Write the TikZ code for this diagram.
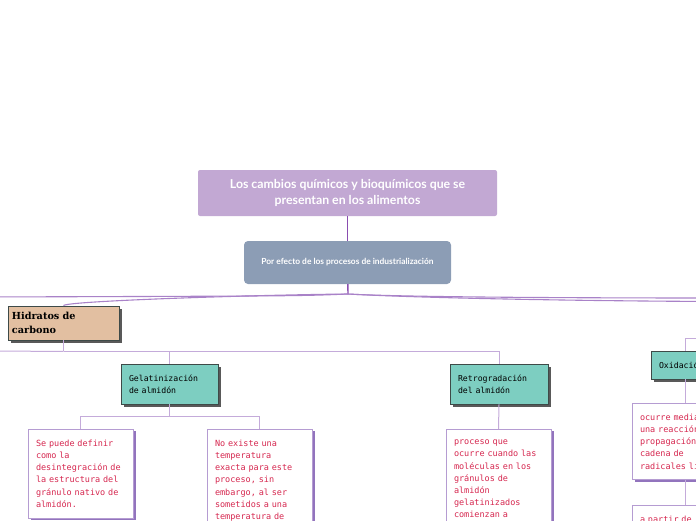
\documentclass[tikz,border=0pt]{standalone}
\usepackage{fontspec}
\setmainfont{Lato}
\newfontfamily\monofont{DejaVu Sans Mono}
\newfontfamily\slabfont{DejaVu Serif}
\usetikzlibrary{shadows}

\definecolor{titlefill}{HTML}{C2A8D3}
\definecolor{subfill}{HTML}{8C9DB5}
\definecolor{tanfill}{HTML}{E2BFA1}
\definecolor{tealfill}{HTML}{7DCEC1}
\definecolor{topicline}{HTML}{3E4A48}
\definecolor{noteline}{HTML}{B59CD2}
\definecolor{noteshadow}{HTML}{9274BD}
\definecolor{notetext}{HTML}{D6274F}
\definecolor{hubline}{HTML}{A982C8}
\definecolor{branchline}{HTML}{C4ABDA}
\definecolor{rootline}{HTML}{8A4DB0}

\tikzset{
  rootbox/.style={fill=titlefill, rounded corners=2pt, text=white, align=center,
    font=\fontsize{12.3}{16}\selectfont\bfseries, minimum width=299pt, minimum height=46pt},
  subbox/.style={fill=subfill, rounded corners=4pt, text=white,
    font=\fontsize{8.4}{10}\selectfont\bfseries, minimum width=207pt, minimum height=43pt},
  topicbox/.style={draw=topicline, line width=0.8pt, inner xsep=8pt, align=left,
    font=\monofont\fontsize{8.2}{12}\selectfont,
    drop shadow={shadow xshift=2.5pt, shadow yshift=-2.5pt, fill=black!65, opacity=1}},
  notebox/.style={draw=noteline, fill=white, line width=0.8pt, anchor=north, inner xsep=8pt,
    inner ysep=10.5pt, align=left, text=notetext, font=\monofont\fontsize{8.5}{12.2}\selectfont,
    drop shadow={shadow xshift=2.5pt, shadow yshift=-2pt, fill=noteshadow, opacity=1}},
  rootlink/.style={draw=rootline, line width=1.4pt},
  hublink/.style={draw=hubline, line width=1.1pt},
  branch/.style={draw=branchline, line width=1pt}
}

\begin{document}
\begin{tikzpicture}[x=1pt, y=-1pt]
  \useasboundingbox (0,0) rectangle (696,520);
  \clip (0,0) rectangle (696,520);

  % central topic and subtopic
  \node[rootbox] (root) at (347.5,193) {Los cambios químicos y bioquímicos que se\\presentan en los alimentos};
  \node[subbox] (sub) at (347.5,262.5) {Por efecto de los procesos de industrialización};
  \coordinate (hub) at (348,294);

  % main topics
  \node[topicbox, fill=tanfill, inner xsep=4pt, minimum width=111pt, minimum height=34pt,
    text width=103pt, font=\slabfont\bfseries\fontsize{9.7}{14}\selectfont] (hid) at (63.5,323) {Hidratos de\\carbono};
  \node[topicbox, fill=tealfill, minimum width=97pt, minimum height=40pt, text width=81pt] (gel) at (169.5,384) {Gelatinización\\de almidón};
  \node[topicbox, fill=tealfill, minimum width=98pt, minimum height=40pt, text width=82pt] (retro) at (499,384) {Retrogradación\\del almidón};
  \node[topicbox, fill=tealfill, minimum width=68pt, minimum height=28pt, text width=52pt] (oxid) at (685,365) {Oxidación};

  % notes
  \node[notebox, minimum width=105pt, text width=89pt] (def) at (80.5,429) {Se puede definir\\como la\\desintegración de\\la estructura del\\gránulo nativo de\\almidón.};
  \node[notebox, minimum width=105pt, text width=89pt, text depth=110pt] (temp) at (259.5,429) {No existe una\\temperatura\\exacta para este\\proceso, sin\\embargo, al ser\\sometidos a una\\temperatura de};
  \node[notebox, minimum width=105pt, text width=89pt, text depth=110pt] (proc) at (498.5,429) {proceso que\\ocurre cuando las\\moléculas en los\\gránulos de\\almidón\\gelatinizados\\comienzan a};
  \node[notebox, minimum width=106pt, text width=90pt] (react) at (685,403) {ocurre mediante\\una reacción de\\propagación en\\cadena de\\radicales libres};
  \node[notebox, minimum width=106pt, text width=90pt, text depth=40pt] (start) at (685,505) {a partir de};

  % branches leaving the page
  \coordinate (offL) at (-20,297);
  \coordinate (offR1) at (720,298);
  \coordinate (offR2) at (720,301.5);
  \coordinate (offH) at (-20,351);
  \coordinate (offO) at (720,338);

  % connectors
  \draw[rootlink] (root) -- (sub);
  \draw[rootlink] (sub) -- (hub);
  \draw[hublink] (hub) .. controls (300,296) .. (offL);
  \draw[hublink] (hub) .. controls (250,295) and (66,301) .. (hid.north);
  \draw[hublink] (hub) .. controls (400,297) and (560,298) .. (offR1);
  \draw[hublink] (hub) .. controls (420,298) and (580,301) .. (offR2);

  \draw[branch] (hid.south) -- ++(0,11) coordinate (hbus);
  \draw[branch] (hbus) -| (gel.north);
  \draw[branch] (hbus) -| (retro.north);
  \draw[branch] (hbus) -- (offH);

  \draw[branch] (gel.south) -- ++(0,12) coordinate (gbus);
  \draw[branch] (gbus) -| (def.north);
  \draw[branch] (gbus) -| (temp.north);
  \draw[branch] (retro.south) -- (proc.north);

  \draw[branch] (offO) -| (oxid.north);
  \draw[branch] (oxid.south) -- (react.north);
  \draw[branch] (react.south) -- (start.north);
\end{tikzpicture}
\end{document}
